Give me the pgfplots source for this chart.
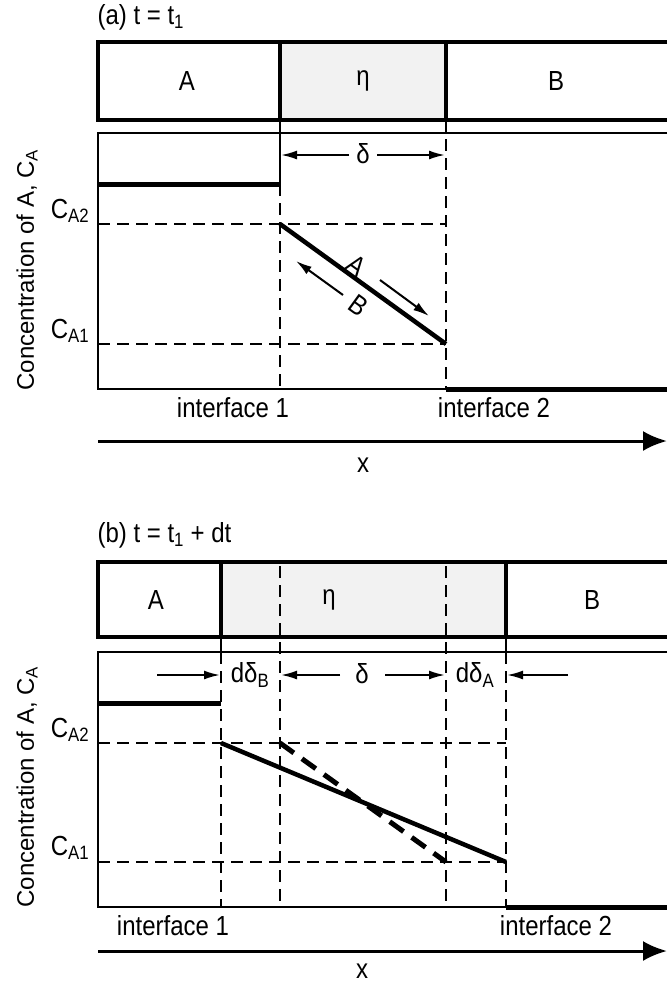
\documentclass[border=0pt]{standalone}
\usepackage{pgfplots}
\pgfplotsset{compat=1.18}
\usepackage{fontspec}
\setmainfont{Liberation Sans}
\usetikzlibrary{arrows.meta}

\definecolor{phase}{gray}{0.95}
% labels in this figure are set slightly tall
\newcommand{\tl}[1]{\scalebox{1}[1.15]{#1}}

\pgfplotsset{
  barline/.style={line width=4.5pt, line join=miter},
  boxline/.style={line width=2.5pt, line join=miter},
  level/.style={line width=5pt},
  profile/.style={line width=4.5pt},
  guide/.style={line width=2pt, dash pattern=on 12pt off 7pt},
  oldprofile/.style={line width=5pt, dash pattern=on 17pt off 10pt},
  smallarrow/.style={line width=2pt, -{Latex[length=16pt,width=9pt]}},
  bigarrow/.style={line width=3pt, -{Latex[length=24pt,width=20pt]}},
}

\begin{document}
\begin{tikzpicture}[font=\fontsize{24}{28}\selectfont]
\begin{axis}[
  x=1pt, y=1pt, y dir=reverse,
  xmin=0, xmax=667, ymin=0, ymax=986,
  hide axis, clip=false,
  every axis plot/.append style={no markers, black},
]
% frame of the whole drawing
\addplot[draw=none] coordinates {(0,0) (667,986)};

% ---------------- (a) t = t1 ----------------
% phase strip A | eta | B
\addplot[fill=phase, draw=none] coordinates {(280,42) (446,42) (446,120) (280,120)} -- cycle;
\addplot[barline] coordinates {(667,42) (98,42) (98,120) (667,120)};
\addplot[barline] coordinates {(280,42) (280,120)};
\addplot[barline] coordinates {(446,42) (446,120)};

% concentration frame
\addplot[boxline] coordinates {(667,133) (98,133) (98,389) (667,389)};

% interfaces
\addplot[line width=2pt] coordinates {(280,120) (280,184)};
\addplot[guide] coordinates {(280,184) (280,389)};
\addplot[guide] coordinates {(446,120) (446,389)};

% reference levels C_A2 and C_A1
\addplot[guide] coordinates {(98,224) (446,224)};
\addplot[guide] coordinates {(98,344) (446,344)};

% concentration profile
\addplot[level] coordinates {(98,184) (280,184)};
\addplot[profile] coordinates {(280,224) (446,344)};
\addplot[level] coordinates {(446,389) (667,389)};

% width of eta and diffusion directions
\addplot[smallarrow] coordinates {(349,155) (281,155)};
\addplot[smallarrow] coordinates {(377,155) (445,155)};
\addplot[smallarrow] coordinates {(380,280) (429,316)};
\addplot[smallarrow] coordinates {(343,295) (296,261)};

% distance axis
\addplot[bigarrow] coordinates {(98,441) (667,441)};

\node[anchor=west] at (axis cs:94,17) {\tl{(a) t = t\textsubscript{1}}};
\node at (axis cs:187,81) {\tl{A}};
\node at (axis cs:363,81) {\tl{η}};
\node at (axis cs:556,81) {\tl{B}};
\node at (axis cs:363,154) {\tl{δ}};
\node[rotate=-36] at (axis cs:357,266) {\tl{A}};
\node[rotate=-36] at (axis cs:359,306) {\tl{B}};
\node at (axis cs:70,211) {\tl{C\textsubscript{A2}}};
\node at (axis cs:70,331) {\tl{C\textsubscript{A1}}};
\node[rotate=90] at (axis cs:27,270) {Concentration of A, C\textsubscript{A}};
\node at (axis cs:233,408) {\tl{interface 1}};
\node at (axis cs:494,408) {\tl{interface 2}};
\node at (axis cs:363,465) {\tl{x}};

% ---------------- (b) t = t1 + dt ----------------
% phase strip A | eta | B
\addplot[fill=phase, draw=none] coordinates {(221,562) (506,562) (506,637) (221,637)} -- cycle;
\addplot[barline] coordinates {(667,562) (98,562) (98,637) (667,637)};
\addplot[barline] coordinates {(221,562) (221,637)};
\addplot[barline] coordinates {(506,562) (506,637)};

% concentration frame
\addplot[boxline] coordinates {(667,652) (98,652) (98,907) (667,907)};

% new interfaces (solid links to strip) and old interfaces
\addplot[line width=2pt] coordinates {(221,637) (221,652)};
\addplot[line width=2pt] coordinates {(506,637) (506,652)};
\addplot[guide] coordinates {(221,652) (221,907)};
\addplot[guide] coordinates {(506,652) (506,907)};
\addplot[guide] coordinates {(280,566) (280,907)};
\addplot[guide] coordinates {(446,566) (446,907)};

% reference levels
\addplot[guide] coordinates {(98,743) (506,743)};
\addplot[guide] coordinates {(98,862) (506,862)};

% concentration profiles: new (solid) and previous (dashed)
\addplot[level] coordinates {(98,703) (221,703)};
\addplot[profile] coordinates {(221,743) (506,862)};
\addplot[oldprofile] coordinates {(280,743) (446,862)};
\addplot[level] coordinates {(506,907) (667,907)};

% growth of the layer
\addplot[smallarrow] coordinates {(157,675) (220,675)};
\addplot[smallarrow] coordinates {(340,675) (281,675)};
\addplot[smallarrow] coordinates {(385,675) (445,675)};
\addplot[smallarrow] coordinates {(568,675) (507,675)};

% distance axis
\addplot[bigarrow] coordinates {(98,951) (667,951)};

\node[anchor=west] at (axis cs:94,535) {\tl{(b) t = t\textsubscript{1} + dt}};
\node at (axis cs:156,600) {\tl{A}};
\node at (axis cs:329,600) {\tl{η}};
\node at (axis cs:592,600) {\tl{B}};
\node at (axis cs:250,675) {\tl{dδ\textsubscript{B}}};
\node at (axis cs:362,674) {\tl{δ}};
\node at (axis cs:475,675) {\tl{dδ\textsubscript{A}}};
\node at (axis cs:70,730) {\tl{C\textsubscript{A2}}};
\node at (axis cs:70,848) {\tl{C\textsubscript{A1}}};
\node[rotate=90] at (axis cs:27,787) {Concentration of A, C\textsubscript{A}};
\node at (axis cs:173,926) {\tl{interface 1}};
\node at (axis cs:556,926) {\tl{interface 2}};
\node[anchor=base, inner sep=0pt] at (axis cs:362,978) {\tl{x}};
\end{axis}
\end{tikzpicture}
\end{document}
